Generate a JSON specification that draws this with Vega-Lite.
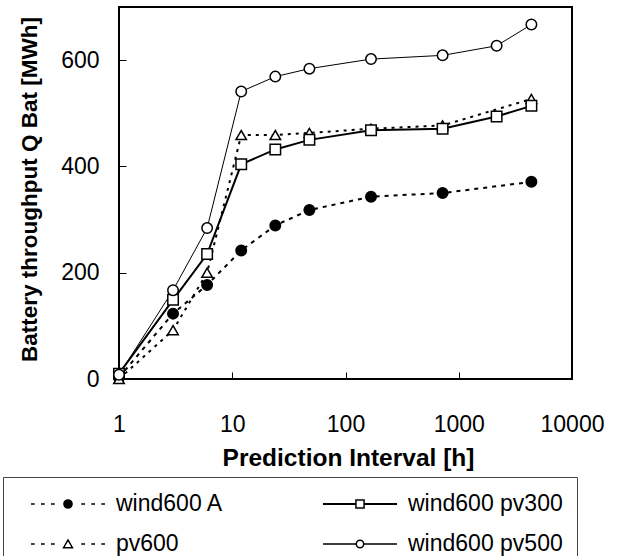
{
  "$schema": "https://vega.github.io/schema/vega-lite/v6.json",
  "width": 453,
  "height": 372,
  "autosize": {"type": "none"},
  "padding": {"left": 119, "top": 7, "right": 50, "bottom": 177},
  "background": "white",
  "config": {
    "font": "Liberation Sans",
    "view": {"stroke": "black", "strokeWidth": 2},
    "axis": {
      "domain": false,
      "grid": false,
      "tickSize": -7,
      "tickColor": "black",
      "tickWidth": 1,
      "labelFont": "Liberation Sans",
      "labelFontSize": 23,
      "labelColor": "black",
      "labelFlush": false,
      "labelOverlap": false,
      "titleFont": "Liberation Sans",
      "titleFontWeight": "bold",
      "titleColor": "black"
    },
    "legend": {
      "title": null,
      "orient": "none",
      "legendX": -116,
      "legendY": 470,
      "columns": 2,
      "direction": "horizontal",
      "gridAlign": "each",
      "strokeColor": "#444444",
      "padding": 14,
      "symbolSize": 5476,
      "symbolOffset": 13,
      "symbolStrokeColor": "black",
      "symbolStrokeWidth": 1.5,
      "clipHeight": 26,
      "labelFont": "Liberation Sans",
      "labelFontSize": 23,
      "labelColor": "black",
      "labelOffset": 10,
      "labelLimit": 400,
      "columnPadding": 85,
      "rowPadding": 14
    }
  },
  "data": {
    "values": [
      {"series": "wind600 A", "h": 1, "q": 3},
      {"series": "wind600 A", "h": 3, "q": 123},
      {"series": "wind600 A", "h": 6, "q": 177},
      {"series": "wind600 A", "h": 12, "q": 242},
      {"series": "wind600 A", "h": 24, "q": 289},
      {"series": "wind600 A", "h": 48, "q": 318},
      {"series": "wind600 A", "h": 168, "q": 343},
      {"series": "wind600 A", "h": 720, "q": 350},
      {"series": "wind600 A", "h": 4380, "q": 371},
      {"series": "pv600", "h": 1, "q": 0},
      {"series": "pv600", "h": 3, "q": 92},
      {"series": "pv600", "h": 6, "q": 200},
      {"series": "pv600", "h": 12, "q": 459},
      {"series": "pv600", "h": 24, "q": 459},
      {"series": "pv600", "h": 48, "q": 463},
      {"series": "pv600", "h": 168, "q": 471},
      {"series": "pv600", "h": 720, "q": 477},
      {"series": "pv600", "h": 4380, "q": 527},
      {"series": "wind600 pv300", "h": 1, "q": 10},
      {"series": "wind600 pv300", "h": 3, "q": 149},
      {"series": "wind600 pv300", "h": 6, "q": 235},
      {"series": "wind600 pv300", "h": 12, "q": 404},
      {"series": "wind600 pv300", "h": 24, "q": 432},
      {"series": "wind600 pv300", "h": 48, "q": 450},
      {"series": "wind600 pv300", "h": 168, "q": 468},
      {"series": "wind600 pv300", "h": 720, "q": 471},
      {"series": "wind600 pv300", "h": 2160, "q": 494},
      {"series": "wind600 pv300", "h": 4380, "q": 514},
      {"series": "wind600 pv500", "h": 1, "q": 8},
      {"series": "wind600 pv500", "h": 3, "q": 167},
      {"series": "wind600 pv500", "h": 6, "q": 284},
      {"series": "wind600 pv500", "h": 12, "q": 541},
      {"series": "wind600 pv500", "h": 24, "q": 569},
      {"series": "wind600 pv500", "h": 48, "q": 584},
      {"series": "wind600 pv500", "h": 168, "q": 602},
      {"series": "wind600 pv500", "h": 720, "q": 609},
      {"series": "wind600 pv500", "h": 2160, "q": 627},
      {"series": "wind600 pv500", "h": 4380, "q": 667}
    ]
  },
  "encoding": {
    "x": {
      "field": "h",
      "type": "quantitative",
      "scale": {"type": "log", "domain": [1, 10000]},
      "axis": {
        "values": [1, 10, 100, 1000, 10000],
        "format": "d",
        "labelPadding": 41,
        "title": "Prediction Interval [h]",
        "titleFontSize": 24.5,
        "titleX": 229,
        "titleY": 86,
        "titleBaseline": "alphabetic",
        "titleAlign": "center"
      }
    },
    "y": {
      "field": "q",
      "type": "quantitative",
      "scale": {"domain": [0, 700]},
      "axis": {
        "values": [0, 200, 400, 600],
        "labelPadding": 27,
        "title": "Battery throughput Q Bat [MWh]",
        "titleFontSize": 22.5,
        "titleAngle": -90,
        "titleX": -83,
        "titleY": 182,
        "titleBaseline": "alphabetic",
        "titleAlign": "center"
      }
    }
  },
  "layer": [
    {
      "transform": [{"filter": "datum.series === 'wind600 A'"}],
      "mark": {"type": "line", "stroke": "black", "strokeWidth": 2, "strokeDash": [4, 5]}
    },
    {
      "transform": [{"filter": "datum.series === 'pv600'"}],
      "mark": {"type": "line", "stroke": "black", "strokeWidth": 2, "strokeDash": [3, 5]}
    },
    {
      "transform": [{"filter": "datum.series === 'wind600 pv300'"}],
      "mark": {"type": "line", "stroke": "black", "strokeWidth": 2}
    },
    {
      "transform": [{"filter": "datum.series === 'wind600 pv500'"}],
      "mark": {"type": "line", "stroke": "black", "strokeWidth": 1}
    },
    {
      "mark": {"type": "point", "filled": true, "stroke": "black", "strokeWidth": 1.5, "size": 110, "opacity": 1},
      "encoding": {
        "shape": {
          "field": "series",
          "type": "nominal",
          "scale": {
            "domain": ["wind600 A", "wind600 pv300", "pv600", "wind600 pv500"],
            "range": ["circle", "square", "triangle-up", "circle"]
          },
          "legend": null
        },
        "fill": {
          "field": "series",
          "type": "nominal",
          "scale": {
            "domain": ["wind600 A", "wind600 pv300", "pv600", "wind600 pv500"],
            "range": ["black", "white", "white", "white"]
          },
          "legend": null
        }
      }
    },
    {
      "transform": [{"filter": "false"}],
      "mark": {"type": "point", "filled": true, "strokeWidth": 1.5, "size": 5476, "opacity": 1},
      "encoding": {
        "shape": {
          "field": "series",
          "type": "nominal",
          "scale": {
            "domain": ["wind600 A", "wind600 pv300", "pv600", "wind600 pv500"],
            "range": [
              "M-1,0L-0.9,0M-0.73,0L-0.63,0M-0.46,0L-0.36,0M0.36,0L0.46,0M0.63,0L0.73,0M0.9,0L1,0M-0.11,0A0.11,0.11,0,1,0,0.11,0A0.11,0.11,0,1,0,-0.11,0Z",
              "M-1,-0.007L-0.11,-0.007M0.11,-0.007L1,-0.007M-1,0.007L-0.11,0.007M0.11,0.007L1,0.007M-0.11,-0.11L0.11,-0.11L0.11,0.11L-0.11,0.11Z",
              "M-1,0L-0.9,0M-0.73,0L-0.63,0M-0.46,0L-0.36,0M0.36,0L0.46,0M0.63,0L0.73,0M0.9,0L1,0M-0.12,0.1L0.12,0.1L0,-0.11Z",
              "M-1,0L-0.1,0M0.1,0L1,0M-0.1,0A0.1,0.1,0,1,0,0.1,0A0.1,0.1,0,1,0,-0.1,0Z"
            ]
          }
        },
        "fill": {
          "field": "series",
          "type": "nominal",
          "scale": {
            "domain": ["wind600 A", "wind600 pv300", "pv600", "wind600 pv500"],
            "range": ["black", "white", "white", "white"]
          }
        },
        "stroke": {
          "field": "series",
          "type": "nominal",
          "scale": {
            "domain": ["wind600 A", "wind600 pv300", "pv600", "wind600 pv500"],
            "range": ["black", "black", "black", "black"]
          }
        }
      }
    }
  ],
  "resolve": {
    "scale": {"shape": "independent", "fill": "independent", "stroke": "independent"},
    "legend": {"shape": "independent", "fill": "independent", "stroke": "independent"}
  }
}
